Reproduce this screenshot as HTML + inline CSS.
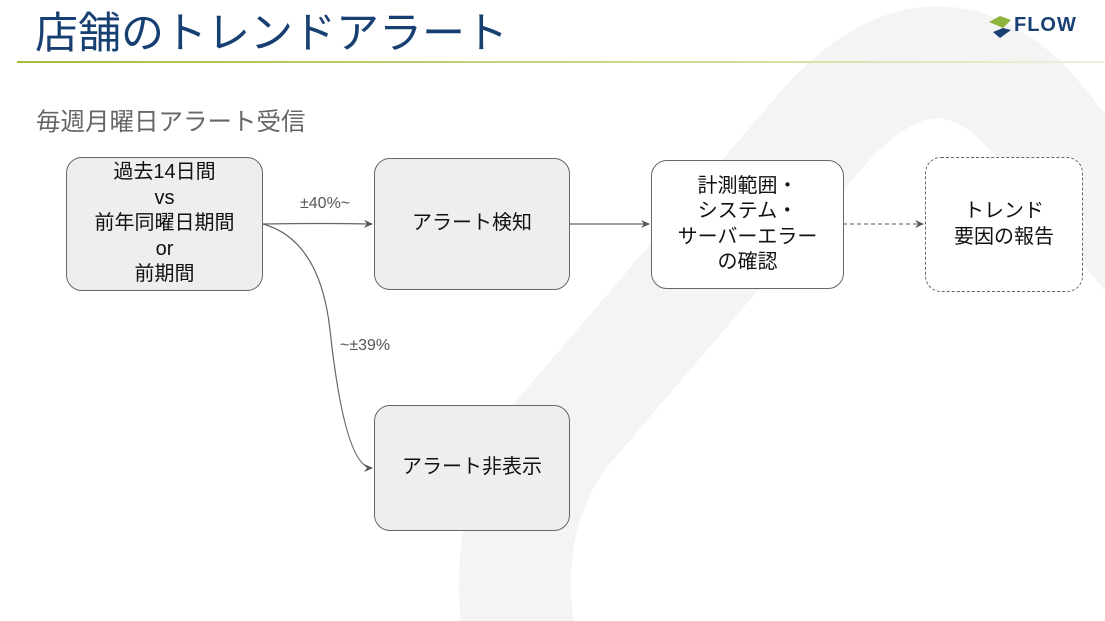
<!DOCTYPE html>
<html><head><meta charset="utf-8"><style>
html,body{margin:0;width:1105px;height:621px;overflow:hidden}
body{background:#fff;position:relative;font-family:"Liberation Sans","Noto Sans CJK JP",sans-serif}
.t{position:absolute;white-space:nowrap}
.box{position:absolute;box-sizing:border-box;border:1px solid #666;border-radius:16px;display:flex;align-items:center;justify-content:center;text-align:center;font-size:20px;line-height:25.5px;color:#111}
</style></head><body>
<svg width="1105" height="621" style="position:absolute;left:0;top:0;overflow:hidden">
<defs><linearGradient id="g" x1="0" x2="1"><stop offset="0" stop-color="#a3bd3c"/><stop offset="0.6" stop-color="#cbd98f"/><stop offset="1" stop-color="#eef2dc"/></linearGradient>
<marker id="a" markerWidth="10" markerHeight="10" refX="8" refY="4" orient="auto" markerUnits="userSpaceOnUse"><path d="M0,0 L9,4 L0,8 L3,4 Z" fill="#555"/></marker></defs>
<path d="M 523 660 Q 495 520 565 430 L 830 120 Q 935 10 1030 110 L 1160 270" fill="none" stroke="#f4f4f4" stroke-width="112"/>
<rect x="17" y="61" width="1088" height="2" fill="url(#g)"/>
<path d="M263 224 Q 320 223 372 224" fill="none" stroke="#666" stroke-width="1.2" marker-end="url(#a)"/>
<path d="M263 224 Q 320 240 330 330 Q 345 468 372 468" fill="none" stroke="#666" stroke-width="1.2" marker-end="url(#a)"/>
<path d="M569 224 L649 224" stroke="#666" stroke-width="1.2" marker-end="url(#a)"/>
<path d="M843 224 L923 224" stroke="#777" stroke-width="1.2" stroke-dasharray="4,3" marker-end="url(#a)"/>
<path d="M989 22 L1000 16 L1011 20 L1003 28 Z" fill="#8db53c"/>
<path d="M993 32 L1003 28 L1011 30 L1000 38 Z" fill="#1a3f75"/>
</svg>
<div class="t" style="left:35px;top:6px;font-size:43px;color:#173f72;line-height:56px">店舗のトレンドアラート</div>
<div class="t" style="left:1014px;top:14px;font-size:20px;font-weight:bold;color:#1a3f75;letter-spacing:1px">FLOW</div>
<div class="t" style="left:36px;top:103px;font-size:24.5px;color:#666">毎週月曜日アラート受信</div>
<div class="box" style="left:66px;top:157px;width:197px;height:134px;background:#eee">過去14日間<br>vs<br>前年同曜日期間<br>or<br>前期間</div>
<div class="box" style="left:374px;top:158px;width:196px;height:132px;background:#eee">アラート検知</div>
<div class="box" style="left:651px;top:160px;width:193px;height:129px;background:#fff">計測範囲・<br>システム・<br>サーバーエラー<br>の確認</div>
<div class="box" style="left:925px;top:157px;width:158px;height:135px;background:#fff;border:1px dashed #666">トレンド<br>要因の報告</div>
<div class="box" style="left:374px;top:405px;width:196px;height:126px;background:#eee">アラート非表示</div>
<div class="t" style="left:300px;top:195px;font-size:16px;color:#555">±40%~</div>
<div class="t" style="left:340px;top:337px;font-size:16px;color:#555">~±39%</div>
</body></html>
